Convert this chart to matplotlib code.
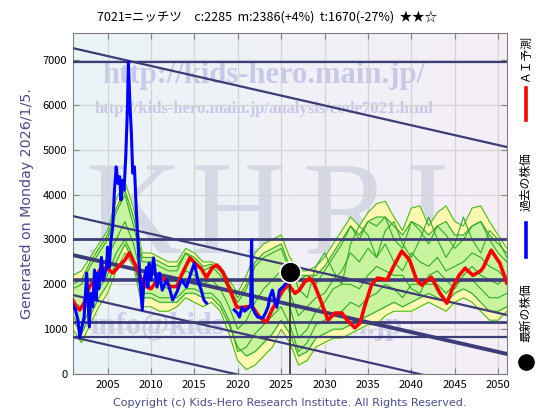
import numpy as np
import matplotlib
matplotlib.use('Agg')
import matplotlib.pyplot as plt
from matplotlib.lines import Line2D

plt.rcParams['font.family'] = ['Noto Sans CJK JP', 'DejaVu Sans']

# 過去の株価 (NaN = データ欠損区間)
blue_years = [2001.0, 2001.3, 2001.6, 2001.8, 2002.0, 2002.3, 2002.6, 2002.9, 2003.1, 2003.3,
              2003.5, 2003.7, 2003.8, 2004.0, 2004.3, 2004.5, 2004.9, 2005.0, 2005.2, 2005.4,
              2005.6, 2005.8, 2006.0, 2006.2, 2006.4, 2006.55, 2006.7, 2006.9, 2007.1, 2007.3,
              2007.4, 2007.6, 2007.75, 2007.9, 2008.1, 2008.3, 2008.5, 2008.7, 2009.0, 2009.2,
              2009.5, 2009.65, 2009.8, 2010.0, 2010.3, 2010.7, 2011.0, 2011.3, 2011.8, 2012.2,
              2012.5, 2013.0, 2013.5, 2014.1, 2014.6, 2015.0, 2015.4, 2015.8, 2016.1, 2016.4,
              2018.0,
              2019.6, 2020.0, 2020.2, 2020.5, 2020.8, 2021.2, 2021.5, 2021.6, 2021.7, 2022.0,
              2022.3, 2022.9, 2023.2, 2023.5, 2023.7, 2024.0, 2024.3, 2024.5, 2024.8, 2025.2,
              2025.6, 2025.9]
blue_vals = [1540, 1430, 1200, 820, 1000, 1270, 2250, 1050, 1800, 1500,
             2320, 1650, 2250, 1900, 2600, 2100, 2380, 2830, 2380, 2990,
             3280, 4100, 4620, 4250, 4400, 3880, 4320, 4100, 4840, 5950,
             6960, 5950, 5370, 4480, 4620, 3720, 2990, 2250, 1430, 2100,
             2380, 1940, 2470, 2100, 2590, 1940, 2250, 1870, 2100, 1870,
             1650, 1830, 2100, 1940, 2250, 2470, 2100, 1870, 1650, 1580,
             np.nan,
             1430, 1350, 1270, 1490, 1400, 1470, 1550, 2990, 1490, 1350,
             1270, 1250, 1360, 1500, 1720, 1870, 1600, 1490, 1870, 1940,
             2030, 2100]

# AI予測
red_years = [2001.0, 2001.4, 2001.8, 2002.3, 2002.9, 2003.5, 2004.1, 2004.9, 2005.2, 2005.6,
             2006.2, 2007.0, 2007.5, 2007.9, 2008.3, 2008.9, 2009.5, 2010.0, 2011.0, 2011.6,
             2012.2, 2013.0, 2013.5, 2014.5, 2015.3, 2015.8, 2016.4, 2017.1, 2017.6, 2018.3,
             2019.1, 2019.9, 2020.5, 2021.0, 2021.7, 2022.5, 2023.3, 2024.0, 2025.1, 2025.8,
             2026.6, 2027.1, 2027.7, 2028.3, 2028.7, 2029.4, 2030.4, 2031.2, 2032.0, 2032.6,
             2033.5, 2034.1, 2034.6, 2035.4, 2036.1, 2037.2, 2037.9, 2038.9, 2039.8, 2040.6,
             2041.2, 2042.3, 2043.3, 2044.1, 2044.8, 2045.5, 2046.2, 2047.1, 2048.0, 2048.3,
             2049.2, 2050.2, 2051.0]
red_vals = [1650, 1500, 1430, 1580, 1940, 2100, 2320, 2380, 2320, 2250,
            2380, 2540, 2700, 2540, 2400, 2100, 1950, 1900, 2160, 2100,
            1950, 1950, 2200, 2590, 2430, 2350, 2150, 2380, 2430, 2270,
            1870, 1490, 1480, 1500, 1500, 1270, 1160, 1450, 1830, 2000,
            1800, 1870, 2050, 2140, 2050, 1720, 1200, 1360, 1360, 1200,
            1030, 1140, 1490, 1980, 2140, 2100, 2380, 2740, 2540, 2100,
            1980, 2160, 1800, 1580, 1940, 2200, 2360, 2200, 2300, 2380,
            2760, 2470, 2030]

# 予測レンジ (1年刻み 2001-2051)
band_years = list(range(2001, 2052))
yellow_hi = [2200, 2300, 2600, 2900, 3200, 3900, 4300, 3700, 2700, 2700,
             2600, 2500, 2500, 2800, 2700, 2500, 2500, 2400, 2100, 1800,
             2200, 2700, 2900, 3000, 3100, 2600, 2300, 2300, 2400, 2600,
             2900, 3200, 3500, 3300, 3600, 3800, 3850, 3500, 3200, 3700,
             3750, 3300, 3600, 3750, 3400, 3300, 3700, 3750, 3400, 3100, 2800]
yellow_lo = [1000, 700, 1100, 1500, 1800, 2300, 2700, 2400, 1500, 1500,
             1400, 1400, 1500, 1700, 1600, 1500, 1600, 1400, 900, 300,
             100, 200, 400, 600, 1000, 700, 200, 300, 600, 700,
             800, 800, 900, 1000, 1100, 1100, 1300, 1400, 1400, 1400,
             1500, 1600, 1500, 1400, 1600, 1700, 1600, 1400, 1200, 1200, 1400]
green_hi = [2000, 2100, 2500, 2800, 3100, 3700, 4100, 3500, 2600, 2600,
            2500, 2400, 2400, 2700, 2600, 2400, 2450, 2300, 2000, 1700,
            2000, 2500, 2700, 2800, 2900, 2400, 2200, 2200, 2200, 2400,
            2700, 3000, 3300, 3100, 3400, 3500, 3500, 3300, 3100, 3400,
            3300, 3100, 3300, 3400, 3100, 3100, 3300, 3400, 3100, 2900, 2700]
green_lo = [1200, 900, 1300, 1700, 2000, 2500, 2900, 2500, 1700, 1700,
            1600, 1600, 1600, 1800, 1800, 1700, 1700, 1500, 1100, 600,
            400, 500, 700, 900, 1200, 900, 400, 500, 800, 900,
            1000, 1000, 1100, 1200, 1300, 1400, 1500, 1600, 1500, 1600,
            1700, 1800, 1700, 1600, 1800, 1900, 1800, 1600, 1400, 1400, 1500]
path_a = [1900, 2000, 2400, 2700, 3000, 3600, 4000, 3300, 2500, 2500,
          2400, 2300, 2300, 2700, 2500, 2300, 2400, 2200, 1900, 1600,
          1900, 2400, 2600, 2700, 2800, 2300, 2100, 2200, 2000, 2300,
          2600, 2900, 3300, 3000, 3400, 3300, 3500, 3000, 2800, 3400,
          3200, 2900, 3300, 3100, 2800, 3000, 3300, 3400, 3000, 2700, 2500]
path_b = [1600, 1500, 2000, 2300, 2600, 3000, 3400, 2900, 2100, 2100,
          2000, 1900, 2000, 2300, 2200, 2000, 2100, 1900, 1500, 1000,
          1200, 1600, 1900, 2100, 2300, 1800, 1300, 1500, 1700, 1800,
          2100, 2300, 2700, 2500, 2800, 2600, 2900, 2500, 2300, 2700,
          2500, 2400, 2600, 2300, 2400, 2500, 2700, 2600, 2400, 2300, 2100]
path_c = [1300, 1000, 1500, 1900, 2200, 2700, 3000, 2600, 1800, 1800,
          1700, 1700, 1700, 1900, 1900, 1800, 1800, 1600, 1200, 500,
          600, 900, 1100, 1300, 1500, 1100, 500, 700, 1100, 1200,
          1300, 1400, 1600, 1500, 1700, 1800, 2000, 1900, 1700, 2000,
          2000, 2000, 2000, 1800, 2000, 2100, 2100, 1900, 1700, 1700, 1800]
# 将来部分の追加シナリオ (2026-2051)
future_years = list(range(2026, 2052))
path_d = [2500, 1900, 1700, 2400, 2700, 2300, 2000, 2900, 3300, 3100,
          2600, 3200, 3400, 2900, 2600, 3000, 3500, 3000, 2600, 2900,
          3500, 3000, 2700, 3200, 3000, 2600]
path_e = [1500, 800, 1000, 1400, 1600, 1900, 2000, 2000, 1900, 2200,
          2400, 2300, 2200, 2200, 1900, 1800, 2200, 2300, 2100, 1900,
          2200, 2400, 2200, 2100, 2000, 2200]

# 水平ライン・トレンドチャネル
h_levels = [6960, 3000, 2090, 1166, 815]
h_widths = [1.6, 2.0, 2.6, 2.0, 1.6]
chan_x = [2001, 2051]
chan_start = [7267, 3522, 2653, 1761, 825]
chan_end = [5062, 1317, 448, -444, -1380]
chan_widths = [1.6, 1.6, 2.8, 1.6, 1.6]

last_year = 2026.0
last_price = 2285

navy = '#3c3c78'
text_col = '#4b4b8c'

fig = plt.figure(figsize=(5.6, 4.2), dpi=100)
ax = fig.add_axes([0.130, 0.1095, 0.775, 0.8115])

# 背景のグラデーション
grad = np.linspace(0, 1, 256).reshape(1, -1)
cmap = matplotlib.colors.LinearSegmentedColormap.from_list('bg', ['#eaf4f6', '#f6eef6'])
ax.imshow(grad, extent=[0, 1, 0, 1], transform=ax.transAxes, aspect='auto', cmap=cmap, zorder=0)

ax.set_xlim(2001, 2051)
ax.set_ylim(0, 7600)
ax.set_xticks(range(2005, 2051, 5))
ax.set_yticks(range(0, 7001, 1000))
ax.grid(True, color='#d4d4d4', linewidth=0.9, zorder=1)

# 透かし
wm = dict(family='Liberation Serif', ha='center', zorder=1.5)
ax.text(2023, 6650, 'http://kids-hero.main.jp/', fontsize=22, fontweight='bold',
        color='#c8c8e8', va='center', **wm)
ax.text(2023, 5900, 'http://kids-hero.main.jp/analysis/code7021.html', fontsize=12,
        fontweight='bold', color='#c8c8e8', va='center', **wm)
for letter, lx_year in zip('KHRI', [2008.0, 2020.0, 2032.5, 2041.7]):
    ax.text(lx_year, 2700, letter, fontsize=96, color='#d6d8e6', va='baseline', **wm)
ax.text(2021, 1050, 'info@kids-hero.main.jp', fontsize=22, fontweight='bold',
        color='#ccccec', va='center', **wm)

# 予測レンジ
ax.fill_between(band_years, yellow_lo, yellow_hi, color='#fff8b0', zorder=2)
ax.plot(band_years, yellow_hi, color='#44bb22', linewidth=0.8, zorder=2.1)
ax.plot(band_years, yellow_lo, color='#44bb22', linewidth=0.8, zorder=2.1)
ax.fill_between(band_years, green_lo, green_hi, color='#c8f4a0', zorder=2.2)
for p in (green_hi, green_lo, path_a, path_b, path_c):
    ax.plot(band_years, p, color='#33aa22', linewidth=0.8, zorder=2.3)
for p in (path_d, path_e):
    ax.plot(future_years, p, color='#33aa22', linewidth=0.8, zorder=2.3)

# ライン
for lv, lw in zip(h_levels, h_widths):
    ax.axhline(lv, color=navy, linewidth=lw, zorder=3)
for s, e, lw in zip(chan_start, chan_end, chan_widths):
    ax.plot(chan_x, [s, e], color=navy, linewidth=lw, zorder=3)

ax.plot(red_years, red_vals, color='#ff0000', linewidth=2.6, zorder=4)
ax.plot(blue_years, blue_vals, color='#0000ff', linewidth=2.2, zorder=5)

ax.plot([last_year, last_year], [0, last_price], color='#333333', linewidth=1.2, zorder=5)
ax.plot(last_year, last_price, 'o', color='black', markersize=15,
        markeredgecolor='white', markeredgewidth=1.2, zorder=6)

ax.tick_params(direction='in', length=4, color='#808080', labelsize=8,
               top=True, right=True, pad=4)
for sp in ax.spines.values():
    sp.set_color('#808080')

ax.set_ylabel('Generated on Monday 2026/1/5.', color=text_col, fontsize=10.3,
              family='DejaVu Sans', labelpad=6)

fig.text(0.477, 0.96, '7021=ニッチツ　c:2285  m:2386(+4%)  t:1670(-27%)  ★★☆',
         ha='center', va='center', fontsize=9)
fig.text(0.518, 0.04, 'Copyright (c) Kids-Hero Research Institute. All Rights Reserved.',
         ha='center', va='center', fontsize=8, color=text_col, family='DejaVu Sans')

# 右側の凡例(縦書き)
lx = 526 / 560
fig.text(lx, 1 - 58 / 420, 'ＡＩ予測', rotation=90, ha='center', va='center', fontsize=8.5)
fig.add_artist(Line2D([lx, lx], [1 - 88 / 420, 1 - 120 / 420], color='#ff0000', linewidth=2.6))
fig.text(lx, 1 - 182 / 420, '過去の株価', rotation=90, ha='center', va='center', fontsize=8.5)
fig.add_artist(Line2D([lx, lx], [1 - 223 / 420, 1 - 257 / 420], color='#0000ff', linewidth=2.6))
fig.text(lx, 1 - 313 / 420, '最新の株価', rotation=90, ha='center', va='center', fontsize=8.5)
fig.add_artist(Line2D([lx], [1 - 362 / 420], marker='o', color='black', markersize=11))

fig.savefig('out.png', dpi=100)
